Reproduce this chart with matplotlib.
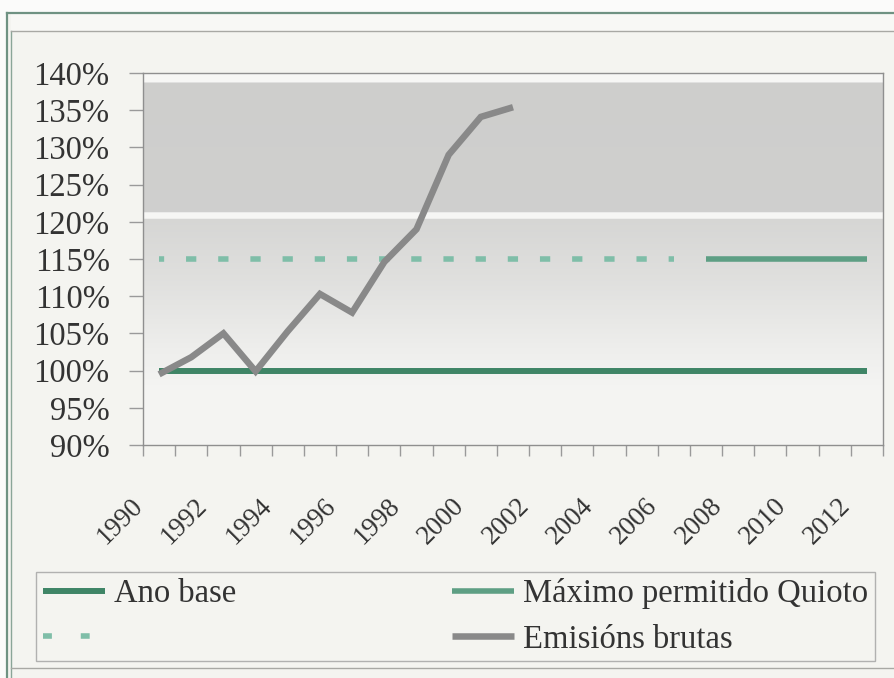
import numpy as np
import matplotlib
matplotlib.use("Agg")
import matplotlib.pyplot as plt
from matplotlib.lines import Line2D
from matplotlib.patches import Rectangle
from matplotlib.transforms import ScaledTranslation

plt.rcParams["font.family"] = ["Liberation Serif", "DejaVu Serif"]

# --- data (% of base year) ---
YEARS = ["1990", "1991", "1992", "1993", "1994", "1995", "1996", "1997",
         "1998", "1999", "2000", "2001", "2002", "2003", "2004", "2005",
         "2006", "2007", "2008", "2009", "2010", "2011", "2012"]
ANO_BASE = [100, 100, 100, 100, 100, 100, 100, 100, 100, 100, 100, 100,
            100, 100, 100, 100, 100, 100, 100, 100, 100, 100, 100]
QUIOTO_TENDENCIA = [115, 115, 115, 115, 115, 115, 115, 115, 115, 115, 115,
                    115, 115, 115, 115, 115, 115]   # 1990-2006, dashed
QUIOTO_MAXIMO = [115, 115, 115, 115, 115, 115]        # 2007-2012
QUIOTO_START = "2007"
EMISIONS = [99.5, 101.8, 105.0, 99.9, 105.3, 110.3, 107.8, 114.6,
            119.0, 129.0, 134.1, 135.4]                # 1990-2001
LABELS = ["Ano base", "", "Máximo permitido Quioto", "Emisións brutas"]

C_BASE = "#3f8566"
C_MAX = "#5e9f84"
C_TEND = "#7fbea8"
C_EMI = "#898989"

W, H = 895, 678


def fx(px):
    return px / W


def fy(py):
    return 1 - py / H


fig = plt.figure(figsize=(W / 100, H / 100), dpi=100, facecolor="#f4f4f0")

# scanned page frame
fig.add_artist(Rectangle((0, fy(13)), 1, 13 / H, transform=fig.transFigure,
                         facecolor="#fbfbfa", edgecolor="none", zorder=0))
fig.add_artist(Rectangle((0, 0), fx(7), 1, transform=fig.transFigure,
                         facecolor="#fbfbfa", edgecolor="none", zorder=0))
fig.add_artist(Rectangle((fx(11), fy(31)), 1, 18 / H, transform=fig.transFigure,
                         facecolor="#f8f8f5", edgecolor="none", zorder=0))
fig.add_artist(Line2D([fx(7), 1], [fy(13), fy(13)], transform=fig.transFigure,
                      color="#6f9282", lw=1.6))
fig.add_artist(Line2D([fx(7), fx(7)], [0, fy(13)], transform=fig.transFigure,
                      color="#6f9282", lw=1.6))
fig.add_artist(Line2D([fx(11), fx(11)], [0, fy(31)], transform=fig.transFigure,
                      color="#8aa598", lw=1.0))
fig.add_artist(Line2D([fx(11), 1], [fy(31), fy(31)], transform=fig.transFigure,
                      color="#a8a8a4", lw=1.0))
fig.add_artist(Line2D([fx(11), 1], [fy(668), fy(668)], transform=fig.transFigure,
                      color="#a8a8a4", lw=1.0))

ax = fig.add_axes([fx(143), fy(445), (883 - 143) / W, (445 - 73) / H])

x = np.arange(len(YEARS))
x_max0 = YEARS.index(QUIOTO_START)

# plot-area shading (grey bands fading to white)
lev = np.linspace(140, 90, 800)
stops = np.array([140, 138.8, 138.7, 121.3, 121.2, 120.5, 120.4, 112, 103, 98, 90])
vals = np.array([247, 247, 206, 208, 246, 246, 214, 224, 238, 244, 244])
g = np.interp(-lev, -stops, vals) / 255
img = np.dstack([g, g, g * 0.992]).reshape(len(lev), 1, 3)
ax.imshow(img, extent=(-0.5, len(YEARS) - 0.5, 90, 140), aspect="auto",
          origin="upper", interpolation="nearest", zorder=0)

# dash pattern so each dash sits on a category
lw_t = 4.0
cat_pt = (883 - 143) / len(YEARS) * 72 / 100
on = 7.4 / lw_t
off = cat_pt / lw_t - on

ax.plot(x[:len(ANO_BASE)], ANO_BASE, color=C_BASE, lw=4.3,
        solid_capstyle="butt", zorder=3)
ax.plot(x[:len(QUIOTO_TENDENCIA)], QUIOTO_TENDENCIA, color=C_TEND, lw=lw_t,
        linestyle=(on / 2, (on, off)), dash_capstyle="butt", zorder=3)
ax.plot(x[x_max0:x_max0 + len(QUIOTO_MAXIMO)], QUIOTO_MAXIMO, color=C_MAX,
        lw=4.0, solid_capstyle="butt", zorder=3)
ax.plot(x[:len(EMISIONS)], EMISIONS, color=C_EMI, lw=4.7,
        solid_joinstyle="miter", solid_capstyle="butt", zorder=4)

ax.set_xlim(-0.5, len(YEARS) - 0.5)
ax.set_ylim(90, 140)

ax.set_yticks(np.arange(90, 141, 5))
ax.set_yticklabels([f"{v}%" for v in range(90, 141, 5)])
ax.tick_params(axis="y", length=10, width=1, pad=14, labelsize=23.5,
               color="#9a9a9a", labelcolor="#333333")

ax.set_xticks(x[::2])
ax.set_xticklabels(YEARS[::2])
ax.set_xticks(np.arange(-0.5, len(YEARS), 1), minor=True)
ax.tick_params(axis="x", which="major", length=0, pad=41, labelsize=19.5,
               labelcolor="#333333")
ax.tick_params(axis="x", which="minor", length=8, width=1, color="#9a9a9a")
shift = ScaledTranslation(-0.2, 0, fig.dpi_scale_trans)
for lbl in ax.get_xticklabels():
    lbl.set_rotation(45)
    lbl.set_rotation_mode("anchor")
    lbl.set_ha("right")
    lbl.set_va("center")
    lbl.set_transform(lbl.get_transform() + shift)

for s in ax.spines.values():
    s.set_color("#8f8f8f")
    s.set_linewidth(1.0)

# legend
handles = [
    Line2D([], [], color=C_BASE, lw=4.3, solid_capstyle="butt"),
    Line2D([], [], color=C_TEND, lw=lw_t, linestyle=(0, (1.6, 5.2)),
           dash_capstyle="butt"),
    Line2D([], [], color=C_MAX, lw=4.0, solid_capstyle="butt"),
    Line2D([], [], color=C_EMI, lw=4.7, solid_capstyle="butt"),
]
leg = fig.legend(handles, LABELS, ncol=2, mode="expand", loc="center",
                 bbox_to_anchor=(fx(36), fy(660), (875 - 36) / W, (660 - 573) / H),
                 fontsize=23.5, frameon=True, fancybox=False, borderpad=0.2,
                 borderaxespad=0, handlelength=1.9, handletextpad=0.3,
                 labelspacing=0.45)
leg.get_frame().set_edgecolor("#a0a0a0")
leg.get_frame().set_facecolor("#f4f4f0")
leg.get_frame().set_linewidth(1.0)
for t in leg.get_texts():
    t.set_color("#333333")

fig.savefig("out.png", dpi=100, facecolor=fig.get_facecolor())
